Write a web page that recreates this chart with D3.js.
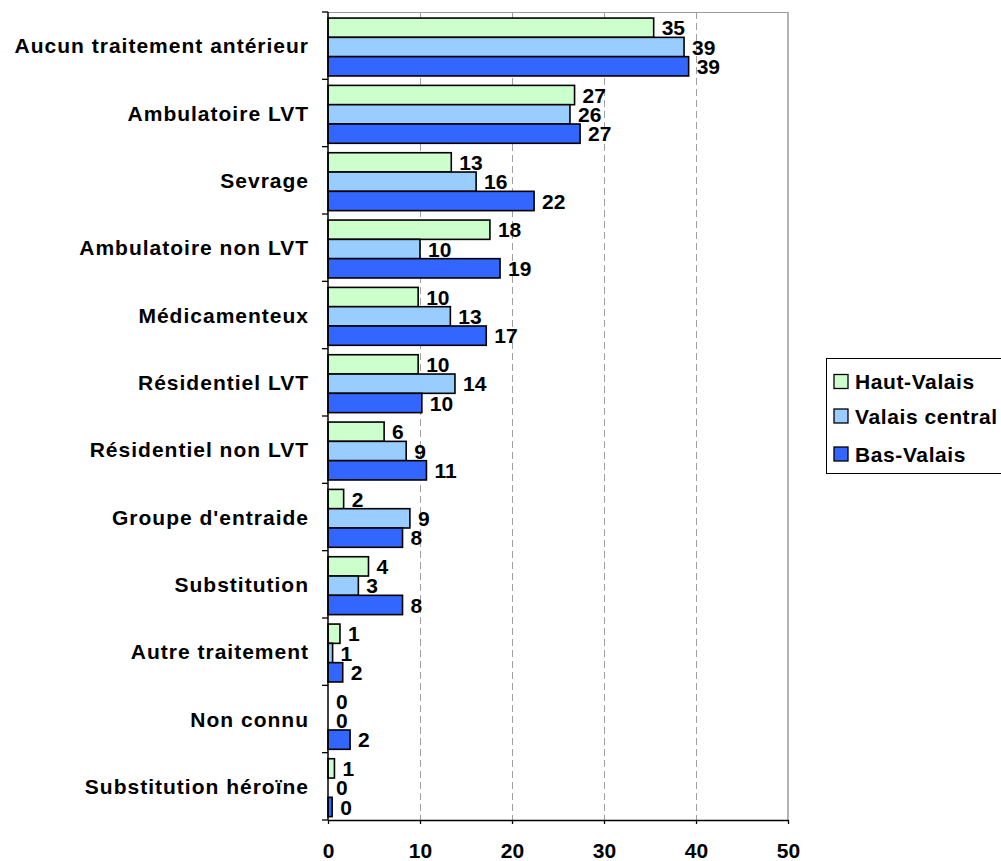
<!DOCTYPE html>
<html>
<head>
<meta charset="utf-8">
<script src="https://cdn.jsdelivr.net/npm/d3@7"></script>
<style>
  html, body { margin: 0; padding: 0; background: #fff; }
  svg { display: block; }
  text { font-family: "Liberation Sans", Arial, sans-serif; font-weight: bold; fill: #000; }
</style>
</head>
<body>
<svg id="chart" width="1001" height="861"></svg>
<script>
const categories = [
  "Aucun traitement antérieur", "Ambulatoire LVT", "Sevrage", "Ambulatoire non LVT",
  "Médicamenteux", "Résidentiel LVT", "Résidentiel non LVT", "Groupe d'entraide",
  "Substitution", "Autre traitement", "Non connu", "Substitution héroïne"
];
const seriesNames = ["Haut-Valais", "Valais central", "Bas-Valais"];
const seriesColors = ["#CCFFCC", "#99CCFF", "#3366FF"];
const hautValais    = [35.4, 26.8, 13.4, 17.6, 9.8, 9.8, 6.1, 1.7, 4.4, 1.3, 0, 0.7];
const valaisCentral = [38.7, 26.3, 16.1, 10.0, 13.3, 13.8, 8.5, 8.9, 3.3, 0.5, 0, 0];
const basValais     = [39.2, 27.4, 22.4, 18.7, 17.2, 10.2, 10.7, 8.1, 8.1, 1.6, 2.4, 0.45];
const xTicks = [0, 10, 20, 30, 40, 50];

const seriesValues = [hautValais, valaisCentral, basValais];

const svg = d3.select("#chart");
const pLeft = 328, pRight = 788, pTop = 12, pBottom = 820;

const x = d3.scaleLinear().domain([0, 50]).range([pLeft, pRight]);
const y = d3.scaleBand().domain(categories).range([pTop, pBottom]).padding(0);
const bw = y.bandwidth();
const ySub = d3.scaleBand().domain(seriesNames).range([bw * 0.09, bw * 0.95]).padding(0);

// gridlines
svg.append("g").selectAll("line")
  .data(xTicks.filter(t => t > 0 && t < 50))
  .join("line")
  .attr("x1", d => Math.round(x(d)) + 0.5).attr("x2", d => Math.round(x(d)) + 0.5)
  .attr("y1", pTop).attr("y2", pBottom)
  .attr("stroke", "#a0a0a0").attr("stroke-width", 1)
  .attr("stroke-dasharray", "7,4");

// plot border (top & right)
svg.append("line").attr("x1", pLeft).attr("x2", x(50)).attr("y1", pTop + 0.5).attr("y2", pTop + 0.5)
  .attr("stroke", "#9a9a9a").attr("stroke-width", 1.2);
svg.append("line").attr("x1", x(50)).attr("x2", x(50)).attr("y1", pTop).attr("y2", pBottom)
  .attr("stroke", "#9a9a9a").attr("stroke-width", 1.5);

// bars
const rows = [];
categories.forEach((c, i) => {
  seriesNames.forEach((s, j) => rows.push({ cat: c, series: s, j, value: seriesValues[j][i] }));
});

const g = svg.append("g");
g.selectAll("rect")
  .data(rows.filter(d => d.value > 0))
  .join("rect")
  .attr("x", x(0))
  .attr("y", d => y(d.cat) + ySub(d.series))
  .attr("width", d => x(d.value) - x(0))
  .attr("height", ySub.bandwidth())
  .attr("fill", d => seriesColors[d.j])
  .attr("stroke", "#000").attr("stroke-width", 1.6);

// value labels
g.selectAll("text.val")
  .data(rows)
  .join("text")
  .attr("class", "val")
  .attr("x", d => x(d.value) + 8)
  .attr("y", d => y(d.cat) + ySub(d.series) + ySub.bandwidth() / 2)
  .attr("dy", "0.36em")
  .attr("font-size", 21)
  .text(d => Math.round(d.value));

// x axis
const xAxis = svg.append("g").attr("transform", `translate(0,${pBottom})`)
  .call(d3.axisBottom(x).tickValues(xTicks).tickSizeInner(4).tickSizeOuter(0).tickPadding(19));
xAxis.select(".domain").attr("stroke", "#000").attr("stroke-width", 1.5);
xAxis.selectAll(".tick line").attr("stroke", "#000").attr("stroke-width", 1.3);
xAxis.selectAll(".tick text").attr("font-size", 21).attr("font-family", null)
  .style("font-family", "'Liberation Sans', Arial, sans-serif").style("font-weight", "bold");

// y axis (boundary ticks)
svg.append("line").attr("x1", pLeft).attr("x2", pLeft).attr("y1", pTop).attr("y2", pBottom)
  .attr("stroke", "#000").attr("stroke-width", 1.5);
const boundaries = categories.map(c => y(c)).concat([pBottom]);
svg.append("g").selectAll("line").data(boundaries).join("line")
  .attr("x1", pLeft - 6).attr("x2", pLeft).attr("y1", d => d).attr("y2", d => d)
  .attr("stroke", "#000").attr("stroke-width", 1.3);

// category labels
svg.append("g").selectAll("text").data(categories).join("text")
  .attr("x", 309).attr("y", d => y(d) + bw / 2)
  .attr("dy", "0.36em")
  .attr("text-anchor", "end")
  .attr("font-size", 21)
  .attr("letter-spacing", "1px")
  .text(d => d);

// legend
const lg = svg.append("g").attr("transform", "translate(826,358)");
lg.append("rect").attr("x", 0.5).attr("y", 0.5).attr("width", 190).attr("height", 115)
  .attr("fill", "#fff").attr("stroke", "#000").attr("stroke-width", 1);
const item = lg.selectAll("g.item").data(seriesNames).join("g")
  .attr("class", "item")
  .attr("transform", (d, i) => `translate(0,${[23.5, 58, 96][i]})`);
item.append("rect").attr("x", 8).attr("y", -7).attr("width", 14).attr("height", 14)
  .attr("fill", (d, i) => seriesColors[i]).attr("stroke", "#000").attr("stroke-width", 1.3);
item.append("text").attr("x", 29).attr("y", 0).attr("dy", "0.36em")
  .attr("font-size", 21).attr("letter-spacing", "0.6px")
  .text(d => d);
</script>
</body>
</html>
